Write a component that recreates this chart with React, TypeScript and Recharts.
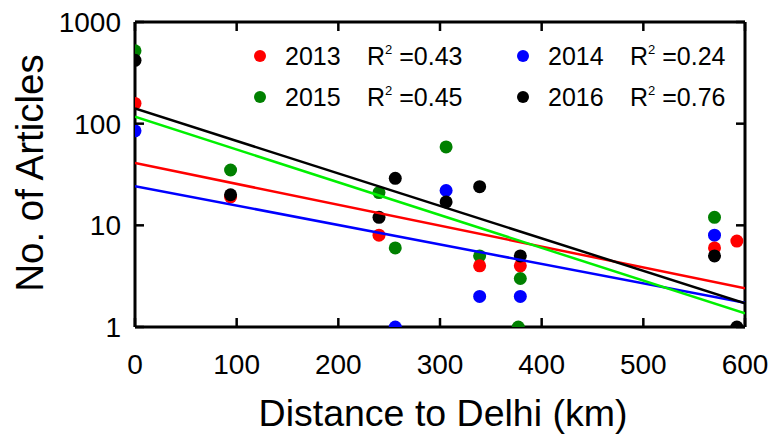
import React from 'react';
import { ScatterChart, Scatter, XAxis, YAxis, ReferenceLine } from 'recharts';

const FONT = '"Liberation Sans", Arial, Helvetica, sans-serif';

const xTicks = [0, 100, 200, 300, 400, 500, 600];
const yTicks = [1, 10, 100, 1000];

const dist2013 = [0, 94, 240, 339, 379, 570, 592];
const count2013 = [158, 19, 8, 4, 4, 6, 7];

const dist2014 = [0, 256, 306, 339, 379, 570];
const count2014 = [85, 1, 22, 2, 2, 8];

const dist2015 = [0, 94, 240, 256, 306, 339, 379, 377, 570];
const count2015 = [520, 35, 21, 6, 59, 5, 3, 1, 12];

const dist2016 = [0, 94, 240, 256, 306, 339, 379, 570, 592];
const count2016 = [420, 20, 12, 29, 17, 24, 5, 5, 1];

const trendX = [0, 600];
const trend2013 = [41, 2.4];
const trend2014 = [24.3, 1.73];
const trend2015 = [117, 1.36];
const trend2016 = [141, 1.71];

const legendYears = ['2013', '2014', '2015', '2016'];
const legendR2 = ['0.43', '0.24', '0.45', '0.76'];

const toPoints = (xs: number[], ys: number[]) => xs.map((x, i) => ({ x, y: ys[i] }));

const dotSeries = [
  { name: '2015', color: '#008000', data: toPoints(dist2015, count2015) },
  { name: '2014', color: '#0000ff', data: toPoints(dist2014, count2014) },
  { name: '2013', color: '#ff0000', data: toPoints(dist2013, count2013) },
  { name: '2016', color: '#000000', data: toPoints(dist2016, count2016) },
];

const trendSeries = [
  { name: 't2013', color: '#ff0000', data: toPoints(trendX, trend2013) },
  { name: 't2014', color: '#0000ff', data: toPoints(trendX, trend2014) },
  { name: 't2015', color: '#00f000', data: toPoints(trendX, trend2015) },
  { name: 't2016', color: '#000000', data: toPoints(trendX, trend2016) },
];

const legendColors = ['#ff0000', '#0000ff', '#008000', '#000000'];

const W = 774;
const H = 434;
const M_TOP = 22;
const M_RIGHT = 29;
const PLOT_TOP = M_TOP;
const PLOT_RIGHT = W - M_RIGHT;
const TICK_LEN = 9;

const BottomTick = (props: any) => {
  const { x, y, payload } = props;
  return (
    <g>
      <line x1={x} y1={y} x2={x} y2={y - TICK_LEN} stroke="#000" strokeWidth={2.5} />
      <line x1={x} y1={PLOT_TOP} x2={x} y2={PLOT_TOP + TICK_LEN} stroke="#000" strokeWidth={2.5} />
      <text x={x} y={y + 47} textAnchor="middle" fontSize={28} fontFamily={FONT} fill="#000">
        {payload.value}
      </text>
    </g>
  );
};

const LeftTick = (props: any) => {
  const { x, y, payload } = props;
  return (
    <g>
      <line x1={x} y1={y} x2={x + TICK_LEN} y2={y} stroke="#000" strokeWidth={2.5} />
      <line x1={PLOT_RIGHT} y1={y} x2={PLOT_RIGHT - TICK_LEN} y2={y} stroke="#000" strokeWidth={2.5} />
      <text x={x - 14} y={y + 10} textAnchor="end" fontSize={28} fontFamily={FONT} fill="#000">
        {payload.value}
      </text>
    </g>
  );
};

const XTitle = (props: any) => {
  const vb = props.viewBox || { x: 135, y: 327, width: 610, height: 107 };
  return (
    <text x={vb.x + vb.width / 2 + 3} y={426} textAnchor="middle" fontSize={37.5} fontFamily={FONT} fill="#000">
      Distance to Delhi (km)
    </text>
  );
};

const YTitle = (props: any) => {
  const vb = props.viewBox || { x: 0, y: 22, width: 135, height: 305 };
  const cy = vb.y + vb.height / 2 - 1.5;
  return (
    <text x={43} y={cy} transform={`rotate(-90 43 ${cy})`} textAnchor="middle" fontSize={38.5} fontFamily={FONT} fill="#000">
      No. of Articles
    </text>
  );
};

const LegendOverlay = () => {
  const cols = [260, 523];
  const rows = [56, 97];
  return (
    <svg width={W} height={H} style={{ position: 'absolute', left: 0, top: 0, pointerEvents: 'none' }}>
      {legendYears.map((yr, i) => {
        const cx = cols[i % 2];
        const cy = rows[Math.floor(i / 2)];
        return (
          <g key={yr}>
            <circle cx={cx} cy={cy} r={6} fill={legendColors[i]} />
            <text x={cx + 25} y={cy + 9} fontSize={25} fontFamily={FONT} fill="#000">
              {yr}
            </text>
            <text x={cx + 107} y={cy + 9} fontSize={25} fontFamily={FONT} fill="#000">
              R
              <tspan fontSize={13} dy={-11}>2</tspan>
              <tspan dy={11}>{' =' + legendR2[i]}</tspan>
            </text>
          </g>
        );
      })}
    </svg>
  );
};

const axisLineStyle = { stroke: '#000', strokeWidth: 3 };

export default function App() {
  return (
    <div style={{ position: 'absolute', left: 0, top: 0, width: W, height: H, background: '#fff' }}>
      <ScatterChart width={W} height={H} margin={{ top: M_TOP, right: M_RIGHT, bottom: 0, left: 0 }}>
        <XAxis
          dataKey="x"
          type="number"
          orientation="bottom"
          domain={[0, 600]}
          ticks={xTicks}
          interval={0}
          height={107}
          allowDataOverflow
          axisLine={axisLineStyle}
          tickLine={false}
          tickSize={0}
          tickMargin={0}
          tick={<BottomTick />}
          label={<XTitle />}
        />
        <YAxis
          dataKey="y"
          type="number"
          scale="log"
          orientation="left"
          domain={[1, 1000]}
          ticks={yTicks}
          interval={0}
          width={135}
          allowDataOverflow
          axisLine={axisLineStyle}
          tickLine={false}
          tickSize={0}
          tickMargin={0}
          tick={<LeftTick />}
          label={<YTitle />}
        />
        <ReferenceLine y={1000} stroke="#000" strokeWidth={3} ifOverflow="visible" />
        <ReferenceLine x={600} stroke="#000" strokeWidth={3} ifOverflow="visible" />
        {dotSeries.map((s) => (
          <Scatter
            key={s.name}
            name={s.name}
            data={s.data}
            isAnimationActive={false}
            shape={(p: any) => <circle cx={p.cx} cy={p.cy} r={6.5} fill={s.color} />}
          />
        ))}
        {trendSeries.map((s) => (
          <Scatter
            key={s.name}
            name={s.name}
            data={s.data}
            isAnimationActive={false}
            line={{ stroke: s.color, strokeWidth: 2.5 }}
            lineType="joint"
            shape={() => <g />}
            legendType="none"
          />
        ))}
      </ScatterChart>
      <LegendOverlay />
    </div>
  );
}
